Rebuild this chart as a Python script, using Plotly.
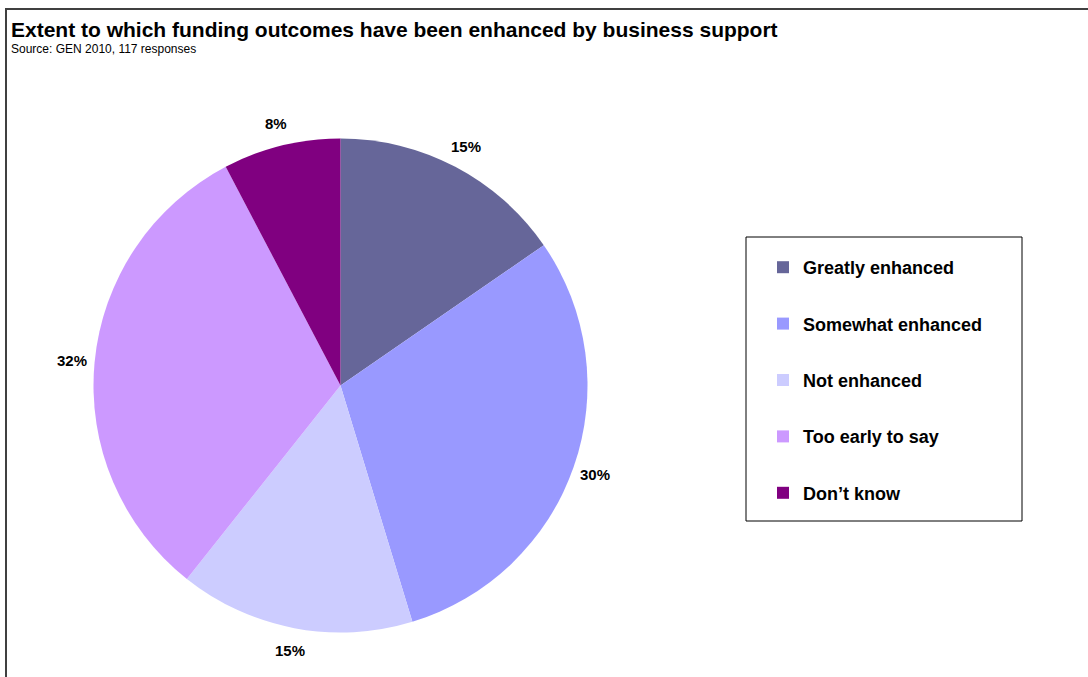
import math
import plotly.graph_objects as go

W, H = 1088, 677

categories = ["Greatly enhanced", "Somewhat enhanced", "Not enhanced", "Too early to say", "Don\u2019t know"]
# response counts out of 117 (shown as rounded percentages: 15%, 30%, 15%, 32%, 8%)
values = [18, 35, 18, 37, 9]
colors = ["#666699", "#9999FF", "#CCCCFF", "#CC99FF", "#800080"]

title_text = "Extent to which funding outcomes have been enhanced by business support"
source_text = "Source: GEN 2010, 117 responses"

FONT = "Liberation Sans, Arial, sans-serif"

# pie geometry in pixels
cx, cy, r = 340.5, 385.5, 247
label_r = 270

fig = go.Figure()
fig.add_trace(go.Pie(
    labels=categories, values=values,
    marker=dict(colors=colors, line=dict(width=0)),
    sort=False, direction="clockwise", rotation=0,
    textinfo="none", hoverinfo="label+percent",
    showlegend=False,
    domain=dict(x=[(cx - r) / W, (cx + r) / W], y=[1 - (cy + r) / H, 1 - (cy - r) / H]),
))

# legend via dummy traces (to control spacing)
for name, col in zip(categories, colors):
    fig.add_trace(go.Scatter(
        x=[None], y=[None], mode="markers", name=name,
        marker=dict(symbol="square", size=12, color=col),
        legendgroup=name, showlegend=True,
    ))

# percentage labels placed outside the slices
total = sum(values)
annotations = []
cum = 0
for v in values:
    mid = (cum + v / 2) / total * 2 * math.pi
    cum += v
    px = cx + label_r * math.sin(mid)
    py = cy - label_r * math.cos(mid)
    annotations.append(dict(
        x=px / W, y=1 - py / H, xref="paper", yref="paper",
        text="<b>%d%%</b>" % round(100 * v / total), showarrow=False,
        xanchor="center", yanchor="middle",
        font=dict(family=FONT, size=15, color="black"),
    ))

annotations.append(dict(
    x=9 / W, y=1 - 30 / H, xref="paper", yref="paper", xanchor="left", yanchor="middle",
    text="<b>" + title_text + "</b>", showarrow=False,
    font=dict(family=FONT, size=21, color="black"),
))
annotations.append(dict(
    x=9 / W, y=1 - 49 / H, xref="paper", yref="paper", xanchor="left", yanchor="middle",
    text=source_text, showarrow=False,
    font=dict(family=FONT, size=12, color="black"),
))

shapes = [
    dict(type="line", xref="paper", yref="paper", x0=5 / W, x1=1.0, y0=1 - 9 / H, y1=1 - 9 / H,
         line=dict(color="#404040", width=2)),
    dict(type="line", xref="paper", yref="paper", x0=6 / W, x1=6 / W, y0=1 - 8 / H, y1=0,
         line=dict(color="#404040", width=2)),
    dict(type="rect", xref="paper", yref="paper", x0=746 / W, x1=1022 / W, y0=1 - 521 / H, y1=1 - 237 / H,
         line=dict(color="black", width=1)),
]

fig.update_layout(
    width=W, height=H, autosize=False,
    margin=dict(l=0, r=0, t=0, b=0),
    paper_bgcolor="white", plot_bgcolor="white",
    xaxis=dict(visible=False, domain=[0.9, 0.91]),
    yaxis=dict(visible=False, domain=[0.9, 0.91]),
    annotations=annotations, shapes=shapes,
    legend=dict(
        x=763 / W, y=1 - 249 / H, xanchor="left", yanchor="top",
        font=dict(family=FONT, size=18, color="black", weight="bold"),
        tracegroupgap=30, bgcolor="rgba(0,0,0,0)", borderwidth=0,
        itemclick=False, itemdoubleclick=False,
    ),
    font=dict(family=FONT),
)

fig.write_html("out.html")
